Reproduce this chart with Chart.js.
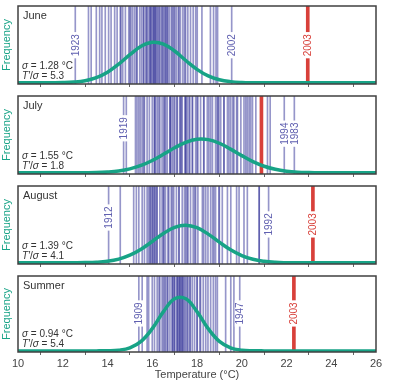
<!DOCTYPE html>
<html>
<head>
<meta charset="utf-8">
<script src="https://cdn.jsdelivr.net/npm/chart.js@4"></script>
<style>
  body { margin: 0; background: #fff; }
  #wrap { position: relative; width: 400px; height: 382px; }
  #wrap canvas { position: absolute; left: 0; }
</style>
</head>
<body>
<div id="wrap">
  <canvas id="june" width="400" height="90" style="top:0"></canvas>
  <canvas id="july" width="400" height="90" style="top:90px"></canvas>
  <canvas id="august" width="400" height="90" style="top:180px"></canvas>
  <canvas id="summer" width="400" height="112" style="top:270px"></canvas>
</div>
<script>
// x grid for the fitted curves (°C)
const curveX = [10, 10.5, 11, 11.5, 12, 12.5, 13, 13.5, 14, 14.5, 15, 15.5, 16, 16.5, 17, 17.5,
  18, 18.5, 19, 19.5, 20, 20.5, 21, 21.5, 22, 22.5, 23, 23.5, 24, 24.5, 25, 25.5, 26];
const xTicks = [10, 12, 14, 16, 18, 20, 22, 24, 26];

// June
const juneYears = [12.56, 13.15, 13.27, 13.5, 13.65, 13.75, 13.9, 14.05, 14.16, 14.32, 14.43, 14.57, 14.6,
  14.68, 14.8, 14.95, 15.0, 15.05, 15.13, 15.22, 15.3, 15.32, 15.44, 15.52, 15.6, 15.62, 15.7, 15.75, 15.77,
  15.85, 15.9, 15.92, 15.95, 16.0, 16.05, 16.07, 16.1, 16.14, 16.15, 16.2, 16.25, 16.3, 16.34, 16.41, 16.45,
  16.49, 16.55, 16.59, 16.62, 16.67, 16.7, 16.77, 16.86, 16.9, 16.96, 17.0, 17.07, 17.16, 17.2, 17.26, 17.37,
  17.45, 17.49, 17.59, 17.71, 17.83, 17.94, 18.01, 18.22, 18.6, 18.74, 18.85, 18.92, 19.55];
const juneCurve = [0, 0, 0, 0.001, 0.003, 0.010, 0.028, 0.067, 0.138, 0.243, 0.366, 0.475, 0.528, 0.505,
  0.414, 0.291, 0.176, 0.091, 0.041, 0.016, 0.005, 0.001, 0, 0, 0, 0, 0, 0, 0, 0, 0, 0, 0];
const juneLabels = [['1923', 12.56], ['2002', 19.55]];
const june2003 = 22.95;

// July
const julyYears = [14.72, 14.84, 15.25, 15.32, 15.4, 15.47, 15.55, 15.62, 15.65, 15.77, 15.87, 16.0, 16.1,
  16.1, 16.14, 16.22, 16.29, 16.34, 16.44, 16.52, 16.55, 16.6, 16.67, 16.79, 16.8, 16.82, 16.89, 16.96, 17.01,
  17.1, 17.12, 17.23, 17.26, 17.3, 17.34, 17.46, 17.49, 17.5, 17.56, 17.64, 17.68, 17.79, 17.8, 17.94, 18.0,
  18.04, 18.16, 18.3, 18.31, 18.46, 18.53, 18.61, 18.69, 18.83, 18.9, 18.94, 18.98, 19.06, 19.2, 19.21, 19.36,
  19.43, 19.51, 19.6, 19.65, 19.77, 19.81, 19.96, 20.1, 20.18, 20.25, 20.33, 20.4, 20.48, 20.63, 21.15, 21.27,
  21.9, 22.35];
const julyCurve = [0, 0, 0, 0, 0, 0.001, 0.002, 0.004, 0.011, 0.025, 0.052, 0.096, 0.161, 0.241, 0.326,
  0.397, 0.437, 0.432, 0.385, 0.309, 0.224, 0.146, 0.086, 0.046, 0.022, 0.009, 0.004, 0.001, 0, 0, 0, 0, 0];
const julyLabels = [['1919', 14.72], ['1994', 21.9], ['1983', 22.35]];
const july2003 = 20.88;

// August
const augustYears = [14.05, 14.57, 15.17, 15.29, 15.4, 15.55, 15.65, 15.77, 15.84, 15.9, 15.92, 16.0, 16.0,
  16.07, 16.1, 16.14, 16.2, 16.22, 16.34, 16.44, 16.5, 16.52, 16.59, 16.7, 16.74, 16.85, 16.9, 16.96, 17.08,
  17.19, 17.2, 17.34, 17.44, 17.5, 17.56, 17.6, 17.71, 17.83, 17.9, 17.94, 18.04, 18.24, 18.3, 18.39, 18.49,
  18.61, 18.7, 18.76, 18.83, 18.98, 19.0, 19.13, 19.36, 19.51, 19.77, 19.88, 20.1, 20.25, 20.78, 20.78, 21.2];
const augustCurve = [0, 0, 0, 0, 0, 0.001, 0.003, 0.008, 0.021, 0.049, 0.100, 0.178, 0.278, 0.382, 0.462,
  0.490, 0.457, 0.374, 0.269, 0.170, 0.095, 0.046, 0.020, 0.007, 0.002, 0, 0, 0, 0, 0, 0, 0, 0];
const augustLabels = [['1912', 14.05], ['1992', 21.2]];
const august2003 = 23.18;

// Summer (JJA)
const summerYears = [15.4, 15.55, 15.77, 15.84, 16.0, 16.1, 16.22, 16.3, 16.34, 16.44, 16.5, 16.55, 16.6,
  16.67, 16.7, 16.79, 16.89, 16.9, 16.95, 17.0, 17.0, 17.1, 17.12, 17.15, 17.2, 17.23, 17.25, 17.3, 17.34,
  17.35, 17.4, 17.44, 17.5, 17.56, 17.6, 17.68, 17.7, 17.79, 17.89, 18.0, 18.01, 18.13, 18.16, 18.28, 18.39,
  18.49, 18.61, 18.73, 18.83, 18.91, 19.28, 19.51, 19.65, 19.91];
const summerCurve = [0, 0, 0, 0, 0, 0, 0, 0, 0.002, 0.010, 0.041, 0.127, 0.297, 0.524, 0.695, 0.695, 0.524,
  0.297, 0.127, 0.041, 0.010, 0.002, 0, 0, 0, 0, 0, 0, 0, 0, 0, 0, 0];
const summerLabels = [['1909', 15.4], ['1947', 19.91]];
const summer2003 = 22.33;

const BLUE = 'rgba(45, 45, 150, 0.5)';
const BLUE_TXT = '#6060b0';
const RED = '#d8403a';
const TEAL = '#17a386';
const FONT = '"Liberation Sans", Arial, sans-serif';

const panelText = {
  id: 'panelText',
  afterDraw(chart, args, o) {
    const { ctx, chartArea: a, scales: { x, y } } = chart;
    ctx.save();
    // year labels on the lines
    ctx.font = '10px ' + FONT;
    o.labels.forEach(l => {
      const px = x.getPixelForValue(l.t);
      const py = y.getPixelForValue(l.pos);
      const w = ctx.measureText(l.text).width;
      ctx.fillStyle = '#fff';
      ctx.fillRect(px - 5, py - w / 2 - 2, 10, w + 4);
      ctx.translate(px, py);
      ctx.rotate(-Math.PI / 2);
      ctx.fillStyle = l.color;
      ctx.textAlign = 'center';
      ctx.textBaseline = 'middle';
      ctx.fillText(l.text, 0, 0.5);
      ctx.setTransform(1, 0, 0, 1, 0, 0);
    });
    // panel title
    ctx.fillStyle = '#333';
    ctx.textAlign = 'left';
    ctx.textBaseline = 'middle';
    ctx.font = '11px ' + FONT;
    ctx.fillText(o.title, a.left + 5, a.top + 10);
    // sigma lines
    const parts = (segs, yy) => {
      let xx = a.left + 4;
      segs.forEach(([txt, it]) => {
        ctx.font = (it ? 'italic ' : '') + '10px ' + FONT;
        ctx.fillText(txt, xx, yy);
        xx += ctx.measureText(txt).width;
      });
    };
    parts([['σ', true], [' = ' + o.sigma + ' °C', false]], a.bottom - 18);
    parts([['T′', true], ['/', false], ['σ', true], [' = ' + o.ratio, false]], a.bottom - 8);
    // frame
    ctx.strokeStyle = '#404040';
    ctx.lineWidth = 1.5;
    ctx.strokeRect(a.left, a.top, a.right - a.left, a.bottom - a.top);
    ctx.restore();
  }
};

function makePanel(id, years, curve, labels, hot, title, sigma, ratio, labelPos, last) {
  const labelList = labels.map(([text, t], i) => ({ text, t, color: BLUE_TXT, pos: labelPos[i] }));
  if (labels.length + 1 === labelPos.length) {
    labelList.push({ text: '2003', t: hot, color: RED, pos: labelPos[labelPos.length - 1] });
  }
  new Chart(document.getElementById(id), {
    type: 'bar',
    data: {
      datasets: [
        {
          data: years.map(t => ({ x: t, y: [-0.05, 1.05] })),
          backgroundColor: BLUE,
          barThickness: 1,
          grouped: false,
          order: 2
        },
        {
          data: [{ x: hot, y: [-0.05, 1.05] }],
          backgroundColor: RED,
          barThickness: 3,
          grouped: false,
          order: 1
        },
        {
          type: 'line',
          data: curveX.map((t, i) => ({ x: t, y: curve[i] })),
          borderColor: TEAL,
          borderWidth: 3.5,
          pointRadius: 0,
          tension: 0.4,
          order: 0
        }
      ]
    },
    options: {
      responsive: false,
      animation: false,
      devicePixelRatio: 1,
      layout: { padding: { top: 6, left: 0, right: 24, bottom: 0 } },
      plugins: {
        legend: { display: false },
        tooltip: { enabled: false },
        panelText: { title, sigma, ratio, labels: labelList }
      },
      scales: {
        x: {
          type: 'linear',
          min: 10,
          max: 26,
          offset: false,
          afterBuildTicks: s => { s.ticks = xTicks.map(v => ({ value: v })); },
          afterFit: s => { s.height = last ? 30 : 6; },
          grid: { drawOnChartArea: false, tickLength: 3, color: '#666' },
          border: { display: false },
          ticks: { display: last, color: '#444', font: { size: 11, family: FONT }, padding: 2, maxRotation: 0 },
          title: {
            display: last,
            text: 'Temperature (°C)',
            color: '#444',
            font: { size: 11, family: FONT },
            padding: 0
          }
        },
        y: {
          min: -0.015,
          max: 1,
          afterFit: s => { s.width = 18; },
          grid: { display: false, drawTicks: false },
          border: { display: false },
          ticks: { display: false },
          title: {
            display: true,
            text: 'Frequency',
            color: TEAL,
            font: { size: 11, family: FONT },
            padding: 0
          }
        }
      }
    },
    plugins: [panelText]
  });
}

makePanel('june', juneYears, juneCurve, juneLabels, june2003, 'June', '1.28', '5.3', [0.49, 0.49, 0.49], false);
makePanel('july', julyYears, julyCurve, julyLabels, july2003, 'July', '1.55', '1.8', [0.58, 0.51, 0.51], false);
makePanel('august', augustYears, augustCurve, augustLabels, august2003, 'August', '1.39', '4.1', [0.59, 0.5, 0.5], false);
makePanel('summer', summerYears, summerCurve, summerLabels, summer2003, 'Summer', '0.94', '5.4', [0.5, 0.5, 0.5], true);
</script>
</body>
</html>
